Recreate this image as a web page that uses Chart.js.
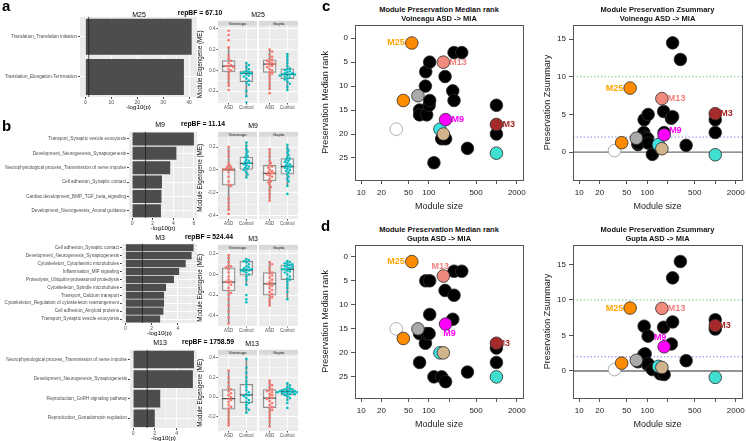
<!DOCTYPE html>
<html>
<head>
<meta charset="utf-8">
<title>Module preservation</title>
<script src="https://cdn.jsdelivr.net/npm/chart.js@4.4.1/dist/chart.umd.min.js"></script>
<style>
  body { margin: 0; width: 746px; height: 441px; position: relative; overflow: hidden; background: #fff; font-family: "Liberation Sans", Arial, sans-serif; }
  canvas { position: absolute; }
  .t { position: absolute; white-space: nowrap; line-height: 1; color: #000; }
</style>
</head>
<body>
<script>
// ---------- data ----------
const moduleIds = ['M25', 'M9', 'M3', 'M13'];
const repBF = [67.10, 11.14, 524.44, 1758.59];
const pCut = 0.05;

// enrichment terms and -log10(p)
const m25Terms = ['Translation_Translation initiation', 'Translation_Elongation-Termination'];
const m25LogP = [41.0, 38.0];
const m9Terms = ['Transport_Synaptic vesicle exocytosis', 'Development_Neurogenesis_Synaptogenesis',
  'Neurophysiological process_Transmission of nerve impulse', 'Cell adhesion_Synaptic contact',
  'Cardiac development_BMP_TGF_beta_signaling', 'Development_Neurogenesis_Axonal guidance'];
const m9LogP = [6.0, 4.3, 3.7, 2.9, 2.85, 2.8];
const m3Terms = ['Cell adhesion_Synaptic contact', 'Development_Neurogenesis_Synaptogenesis',
  'Cytoskeleton_Cytoplasmic microtubules', 'Inflammation_MIF signaling',
  'Proteolysis_Ubiquitin-proteasomal proteolysis', 'Cytoskeleton_Spindle microtubules',
  'Transport_Calcium transport', 'Cytoskeleton_Regulation of cytoskeleton rearrangement',
  'Cell adhesion_Amyloid proteins', 'Transport_Synaptic vesicle exocytosis'];
const m3LogP = [5.2, 5.05, 4.6, 4.1, 3.7, 3.1, 2.95, 2.95, 2.9, 2.65];
const m13Terms = ['Neurophysiological process_Transmission of nerve impulse', 'Development_Neurogenesis_Synaptogenesis',
  'Reproduction_GnRH signaling pathway', 'Reproduction_Gonadotropin regulation'];
const m13LogP = [5.6, 5.5, 2.5, 2.0];

// eigengene box plots
const studies = ['Voineagu', 'Gupta'];
const groups = ['ASD', 'Control'];
// [lower whisker, q1, median, q3, upper whisker]: Voineagu ASD, Voineagu Control, Gupta ASD, Gupta Control
const m25Box = [[-0.15, -0.016, 0.04, 0.093, 0.22], [-0.25, -0.11, -0.03, -0.006, 0.07],
  [-0.18, -0.02, 0.06, 0.1, 0.2], [-0.19, -0.08, -0.04, 0.015, 0.155]];
const m25ME = [
  [0.38, 0.34, 0.29, 0.22, 0.14, 0.11, 0.09, 0.07, 0.05, 0.04, 0.04, 0.03, 0.01, 0.0, -0.02, -0.05, -0.08, -0.12, -0.15, -0.19],
  [0.07, 0.05, 0.03, 0.01, -0.01, -0.02, -0.02, -0.03, -0.03, -0.04, -0.05, -0.06, -0.08, -0.1, -0.12, -0.14, -0.2, -0.25, -0.31],
  [0.2, 0.18, 0.15, 0.13, 0.11, 0.1, 0.09, 0.08, 0.07, 0.06, 0.06, 0.05, 0.04, 0.03, 0.01, 0.0, -0.02, -0.03, -0.05, -0.08, -0.11, -0.15, -0.18, -0.22],
  [0.155, 0.13, 0.1, 0.07, 0.04, 0.02, 0.01, 0.0, -0.01, -0.02, -0.03, -0.03, -0.04, -0.04, -0.04, -0.05, -0.05, -0.06, -0.07, -0.08, -0.09, -0.11, -0.13, -0.16, -0.19]];
const m9Box = [[-0.35, -0.133, 0.0, 0.012, 0.2], [-0.066, 0.0, 0.058, 0.113, 0.24],
  [-0.27, -0.096, -0.03, 0.04, 0.18], [-0.14, -0.037, 0.03, 0.1, 0.22]];
const m9ME = [
  [0.2, 0.16, 0.12, 0.06, 0.04, 0.03, 0.02, 0.01, 0.01, 0.0, 0.0, -0.02, -0.06, -0.1, -0.13, -0.14, -0.25, -0.29, -0.32, -0.35, -0.385],
  [0.24, 0.21, 0.18, 0.16, 0.14, 0.12, 0.11, 0.09, 0.08, 0.07, 0.06, 0.06, 0.05, 0.04, 0.03, 0.02, 0.01, 0.0, -0.02, -0.04, -0.066],
  [0.18, 0.15, 0.12, 0.08, 0.06, 0.04, 0.03, 0.02, 0.0, -0.01, -0.02, -0.03, -0.03, -0.04, -0.05, -0.06, -0.08, -0.1, -0.11, -0.13, -0.15, -0.18, -0.21, -0.24, -0.27],
  [0.22, 0.19, 0.17, 0.15, 0.13, 0.11, 0.1, 0.09, 0.08, 0.07, 0.06, 0.05, 0.04, 0.03, 0.03, 0.02, 0.01, 0.0, -0.01, -0.02, -0.04, -0.06, -0.08, -0.1, -0.14, -0.21]];
const m3Box = [[-0.475, -0.16, -0.074, 0.065, 0.19], [-0.1, -0.006, 0.044, 0.127, 0.15],
  [-0.3, -0.2, -0.09, 0.018, 0.12], [-0.24, -0.05, 0.05, 0.095, 0.13]];
const m3ME = [
  [0.19, 0.16, 0.12, 0.09, 0.08, 0.07, 0.05, 0.02, -0.02, -0.05, -0.07, -0.07, -0.08, -0.1, -0.13, -0.16, -0.18, -0.2, -0.24, -0.3, -0.36, -0.42, -0.475],
  [0.15, 0.14, 0.13, 0.12, 0.1, 0.08, 0.07, 0.06, 0.05, 0.05, 0.04, 0.04, 0.03, 0.02, 0.0, -0.02, -0.05, -0.1, -0.2, -0.24, -0.27],
  [0.12, 0.1, 0.07, 0.04, 0.02, 0.01, -0.01, -0.03, -0.05, -0.07, -0.08, -0.09, -0.1, -0.11, -0.13, -0.15, -0.17, -0.19, -0.2, -0.22, -0.24, -0.27, -0.3],
  [0.13, 0.12, 0.11, 0.1, 0.1, 0.09, 0.08, 0.07, 0.07, 0.06, 0.05, 0.05, 0.04, 0.03, 0.02, 0.0, -0.02, -0.04, -0.05, -0.07, -0.1, -0.13, -0.17, -0.24]];
const m13Box = [[-0.29, -0.122, -0.016, 0.078, 0.27], [-0.16, -0.058, 0.023, 0.13, 0.39],
  [-0.3, -0.107, -0.01, 0.078, 0.17], [-0.03, 0.023, 0.055, 0.078, 0.14]];
const m13ME = [
  [0.27, 0.2, 0.15, 0.1, 0.08, 0.06, 0.04, 0.02, 0.0, -0.02, -0.03, -0.05, -0.08, -0.1, -0.12, -0.15, -0.19, -0.23, -0.26, -0.29],
  [0.39, 0.3, 0.25, 0.2, 0.16, 0.13, 0.1, 0.07, 0.05, 0.03, 0.02, 0.01, -0.01, -0.03, -0.05, -0.06, -0.08, -0.11, -0.13, -0.16],
  [0.17, 0.14, 0.12, 0.1, 0.08, 0.07, 0.06, 0.05, 0.03, 0.02, 0.0, -0.01, -0.02, -0.04, -0.06, -0.08, -0.1, -0.11, -0.13, -0.15, -0.18, -0.21, -0.25, -0.3],
  [0.14, 0.12, 0.1, 0.09, 0.08, 0.08, 0.07, 0.07, 0.06, 0.06, 0.06, 0.05, 0.05, 0.05, 0.05, 0.04, 0.04, 0.03, 0.03, 0.02, 0.01, -0.01, -0.03, -0.06, -0.11]];

// module preservation (same module order in every array)
const moduleSize = [33, 42, 56, 69, 73, 73, 90, 89, 93, 101, 103, 103, 119, 146, 155,
  164, 164, 174, 177, 177, 226, 236, 236, 307, 373, 1000, 1000, 1000, 1000];
const rankVoi = [19, 13, 1, 12, 15, 16, 7, 10, 16, 14, 5, 13, 26, 19, 21, 5, 20, 8, 17, 21, 11, 13, 3, 3, 23, 18, 14, 20, 24];
const zVoi = [0.2, 1.25, 8.5, 1.85, 1.0, 1.2, 4.3, 2.6, 2.0, 1.8, 5.0, 1.2, -0.3, 1.0, 0.6,
  7.1, 0.45, 5.4, 2.3, 2.6, 4.5, 4.7, 14.5, 12.3, 0.9, 5.1, 4.3, 2.6, -0.35];
const rankGup = [15, 17, 1, 15, 16, 22, 5, 18, 16, 16, 5, 12, 25, 20, 25, 4, 20, 7, 14, 26, 13, 8, 3, 3, 24, 18, 19, 22, 25];
const zGup = [0.2, 1.1, 8.85, 1.5, 1.3, 1.4, 6.3, 2.3, 2.4, 0.9, 4.9, 1.0, 0.2, 0.65, -0.4,
  8.8, 0.5, 6.15, 3.4, -0.5, 3.8, 6.9, 13.1, 15.4, 1.45, 6.4, 7.2, 5.9, -0.9];
const labelNames = ['M25', 'M13', 'M9', 'M3'];
const labelIdx = [2, 15, 18, 25];
const sizeTicks = [10, 20, 50, 100, 200, 500, 1000, 2000];
const sizeTickText = ['10', '20', '50', '100', '', '500', '', '2000'];
const rankTicks = [0, 5, 10, 15, 20, 25];
const zTicks = [0, 5, 10, 15];
const zCuts = [2, 10];

// ---------- styles ----------
const K = '#000000';
const moduleColor = ['#ffffff', '#ff8c00', '#ff8c00', '#a9a9a9', K, K, K, K, K, K, K, K, K, '#3fe3e3', K,
  '#f08a7c', '#d2b48c', K, '#ff00ff', K, K, K, K, K, K, '#a52a2a', K, K, '#40e0d0'];
const labelColor = ['#ffa500', '#f08080', '#ff00ff', '#a52a2a'];
const groupColor = ['#f8766d', '#00bfc4'];

Chart.defaults.font.family = '"Liberation Sans", Arial, sans-serif';
Chart.defaults.color = '#222';
Chart.defaults.animation = false;
Chart.defaults.responsive = false;
Chart.defaults.events = [];
Chart.defaults.plugins.legend.display = false;
Chart.defaults.plugins.tooltip.enabled = false;

// ---------- helpers ----------
function makeCanvas(x, y, w, h) {
  const c = document.createElement('canvas');
  c.width = w; c.height = h;
  c.style.left = x + 'px'; c.style.top = y + 'px';
  c.style.width = w + 'px'; c.style.height = h + 'px';
  document.body.appendChild(c);
  return c;
}

function text(str, x, y, css, anchorTopLeft) {
  const d = document.createElement('div');
  d.className = 't';
  d.textContent = str;
  d.style.cssText += css;
  d.style.left = x + 'px'; d.style.top = y + 'px';
  if (!anchorTopLeft) d.style.transform = 'translate(-50%,-50%)';
  document.body.appendChild(d);
}

function halfTicks(min, max, step) {
  const h = step / 2, out = [];
  for (let v = Math.ceil(min / h - 1e-9) * h; v <= max + 1e-9; v += h) out.push(Math.round(v * 1000) / 1000);
  return out;
}
const isMajor = (v, step) => Math.abs(v / step - Math.round(v / step)) < 1e-6;

// beeswarm placement of points around a box centre (pixel-based collision)
function swarm(vals, cx, pxX, pxY) {
  const d = 2.5, placed = [];
  return vals.map(v => {
    let off = 0;
    for (let k = 0; k < 40; k++) {
      const cand = k === 0 ? 0 : (k % 2 ? 1 : -1) * Math.ceil(k / 2) * 0.5 * d / pxX;
      if (placed.every(p => Math.hypot((p.x - cand) * pxX, (p.y - v) * pxY) >= d)) { off = cand; break; }
    }
    placed.push({ x: off, y: v });
    return { x: cx + off, y: v };
  });
}

// ---------- plugins ----------
const panelBg = {
  id: 'panelBg',
  beforeDraw(chart, args, o) {
    const a = chart.chartArea, ctx = chart.ctx;
    ctx.save();
    if (o.color) {
      ctx.fillStyle = o.color;
      ctx.fillRect(a.left, a.top, a.right - a.left, a.bottom - a.top);
    }
    if (o.strip) {
      ctx.fillStyle = '#d9d9d9';
      ctx.fillRect(a.left, a.top - o.stripH, a.right - a.left, o.stripH);
      ctx.fillStyle = '#1a1a1a';
      ctx.font = '4.3px "Liberation Sans"';
      ctx.textAlign = 'center'; ctx.textBaseline = 'middle';
      ctx.fillText(o.strip, (a.left + a.right) / 2, a.top - o.stripH / 2 + 0.3);
    }
    ctx.restore();
  },
  afterDraw(chart, args, o) {
    if (!o.frame) return;
    const a = chart.chartArea, ctx = chart.ctx;
    ctx.save();
    ctx.strokeStyle = o.frame; ctx.lineWidth = 1;
    ctx.strokeRect(Math.round(a.left) + 0.5, Math.round(a.top) + 0.5, Math.round(a.right - a.left), Math.round(a.bottom - a.top));
    ctx.restore();
  }
};

function drawRefLines(chart, o) {
  if (!o.items) return;
  const a = chart.chartArea, ctx = chart.ctx, s = chart.scales[o.axis];
  ctx.save();
  o.items.forEach(it => {
    const p = s.getPixelForValue(it.v);
    ctx.beginPath();
    ctx.strokeStyle = it.color; ctx.lineWidth = it.w;
    ctx.setLineDash(it.dash || []);
    if (o.axis === 'x') { ctx.moveTo(p, a.top); ctx.lineTo(p, a.bottom); }
    else { ctx.moveTo(a.left, p); ctx.lineTo(a.right, p); }
    ctx.stroke();
  });
  ctx.restore();
}
const refLines = {
  id: 'refLines',
  beforeDatasetsDraw(chart, args, o) { if (!o.after) drawRefLines(chart, o); },
  afterDatasetsDraw(chart, args, o) { if (o.after) drawRefLines(chart, o); }
};

const pointLabels = {
  id: 'pointLabels',
  afterDatasetsDraw(chart, args, o) {
    if (!o.items) return;
    const ctx = chart.ctx;
    ctx.save();
    ctx.font = 'bold 9px "Liberation Sans"';
    ctx.textBaseline = 'middle';
    o.items.forEach(it => {
      ctx.fillStyle = it.color; ctx.textAlign = it.align;
      ctx.fillText(it.text, chart.scales.x.getPixelForValue(it.x) + it.dx, chart.scales.y.getPixelForValue(it.y) + it.dy);
    });
    ctx.restore();
  }
};

// ---------- panels a / b ----------
const rows = [
  { barTop: 15, barBottom: 97, barLeft: 80, step: 10, boxTop: 23, boxBottom: 103, yMin: -0.315, yMax: 0.428, titleY: 13.5, barTitleX: 139, bfX: 200, boxTitleX: 258 },
  { barTop: 130, barBottom: 218, barLeft: 129, step: 2, boxTop: 134, boxBottom: 219, yMin: -0.43, yMax: 0.29, titleY: 124, barTitleX: 160, bfX: 203, boxTitleX: 253 },
  { barTop: 242, barBottom: 323, barLeft: 122, step: 2, boxTop: 247, boxBottom: 326, yMin: -0.5, yMax: 0.24, titleY: 237, barTitleX: 160, bfX: 209, boxTitleX: 253 },
  { barTop: 348, barBottom: 428, barLeft: 130, step: 2, boxTop: 352, boxBottom: 431, yMin: -0.346, yMax: 0.432, titleY: 342, barTitleX: 160, bfX: 208, boxTitleX: 252 }
];
const termSets = [m25Terms, m9Terms, m3Terms, m13Terms];
const logPSets = [m25LogP, m9LogP, m3LogP, m13LogP];
const boxSets = [m25Box, m9Box, m3Box, m13Box];
const meSets = [m25ME, m9ME, m3ME, m13ME];

function barPanel(L, terms, logp) {
  const padTop = 2, padRight = 3, xH = 14, right = 197;
  const top = L.barTop - padTop;
  const cv = makeCanvas(0, top, right + padRight, L.barBottom + xH - top);
  const hi = Math.max(...logp);
  const xMin = -0.05 * hi, xMax = 1.05 * hi;
  const ticks = halfTicks(xMin, xMax, L.step);
  new Chart(cv, {
    type: 'bar',
    data: { labels: terms, datasets: [{ data: logp, backgroundColor: '#4d4d4d', categoryPercentage: 0.9, barPercentage: 1 }] },
    options: {
      indexAxis: 'y',
      layout: { padding: { top: padTop, right: padRight, left: 0, bottom: 0 } },
      scales: {
        x: {
          type: 'linear', min: xMin, max: xMax,
          afterBuildTicks: a => { a.ticks = ticks.map(v => ({ value: v })); },
          afterFit: a => { a.height = xH; },
          grid: { color: '#fff', lineWidth: c => (c.tick && isMajor(c.tick.value, L.step)) ? 0.9 : 0.45,
            tickLength: 2, tickColor: c => (c.tick && isMajor(c.tick.value, L.step)) ? '#333' : 'rgba(0,0,0,0)' },
          border: { display: false },
          ticks: { callback: v => isMajor(v, L.step) ? String(Math.round(v)) : '', font: { size: 5 }, color: '#4d4d4d', padding: 1, maxRotation: 0, autoSkip: false },
          title: { display: true, text: '-log10(p)', font: { size: 6.2 }, color: '#000', padding: 0 }
        },
        y: {
          afterFit: a => { a.width = L.barLeft; },
          grid: { color: '#fff', lineWidth: 0.9, offset: false, tickLength: 2, tickColor: '#333' },
          border: { display: false },
          ticks: { font: { size: 4.6 }, color: '#4d4d4d', padding: 1, autoSkip: false }
        }
      },
      plugins: {
        panelBg: { color: '#ebebeb' },
        refLines: { axis: 'x', after: true, items: [{ v: -Math.log10(pCut), color: '#1a1a1a', w: 0.7 }] }
      }
    },
    plugins: [panelBg, refLines]
  });
}

function boxFacet(L, s, stats, vals) {
  const stripH = 5, xH = 9, padR = 12, padL = s === 0 ? 0 : 12;
  const cl = s === 0 ? 218 : 259, cr = s === 0 ? 257 : 298;
  const yW = s === 0 ? 22 : 1;
  const left = cl - yW - padL;
  const top = L.boxTop - stripH;
  const cv = makeCanvas(left, top, cr + padR - left, L.boxBottom + xH - top);
  const pxX = (cr - cl) / 2.2, pxY = (L.boxBottom - L.boxTop) / (L.yMax - L.yMin);
  const yt = halfTicks(L.yMin, L.yMax, 0.2);
  const datasets = [
    { type: 'bar', data: stats.map((b, g) => ({ x: g + 1, y: [b[0], b[4]] })), backgroundColor: '#8a8a8a', barThickness: 1, grouped: false, order: 5 },
    { type: 'bar', data: stats.map((b, g) => ({ x: g + 1, y: [b[1], b[3]] })), backgroundColor: 'rgba(255,255,255,0.55)',
      borderColor: '#8a8a8a', borderWidth: 1, borderSkipped: false, barThickness: 13, grouped: false, order: 4 },
    { type: 'scatter', data: stats.map((b, g) => ({ x: g + 1, y: b[2] })), pointStyle: 'line', pointRadius: 6.5,
      pointBorderColor: '#4d4d4d', pointBorderWidth: 1.3, order: 3 }
  ];
  vals.forEach((v, g) => datasets.push({
    type: 'scatter', data: swarm(v, g + 1, pxX, pxY), pointRadius: 1.3,
    pointBackgroundColor: groupColor[g], pointBorderWidth: 0, order: 2 - g
  }));
  new Chart(cv, {
    type: 'bar',
    data: { datasets },
    options: {
      layout: { padding: { top: stripH, right: padR, left: padL, bottom: 0 } },
      scales: {
        x: {
          type: 'linear', min: 0.4, max: 2.6, offset: false,
          afterBuildTicks: a => { a.ticks = groups.map((g, i) => ({ value: i + 1 })); },
          afterFit: a => { a.height = xH; },
          grid: { color: '#fff', lineWidth: 0.9, offset: false, tickLength: 1.5, tickColor: '#333' },
          border: { display: false },
          ticks: { callback: v => groups[Math.round(v) - 1], font: { size: 4.5 }, color: '#4d4d4d', padding: 1, maxRotation: 0, autoSkip: false }
        },
        y: {
          type: 'linear', min: L.yMin, max: L.yMax,
          afterBuildTicks: a => { a.ticks = yt.map(v => ({ value: v })); },
          afterFit: a => { a.width = yW; },
          grid: { color: '#fff', lineWidth: c => (c.tick && isMajor(c.tick.value, 0.2)) ? 0.9 : 0.45,
            drawTicks: s === 0, tickLength: 1.5,
            tickColor: c => (c.tick && isMajor(c.tick.value, 0.2)) ? '#333' : 'rgba(0,0,0,0)' },
          border: { display: false },
          ticks: { display: s === 0, callback: v => isMajor(v, 0.2) ? (Math.abs(v) < 1e-9 ? 0 : v).toFixed(1) : '',
            font: { size: 4.5 }, color: '#4d4d4d', padding: 1, autoSkip: false },
          title: { display: s === 0, text: 'Module Eigengene (ME)', font: { size: 6.3 }, color: '#000', padding: 0 }
        }
      },
      plugins: { panelBg: { color: '#ebebeb', strip: studies[s], stripH: stripH } }
    },
    plugins: [panelBg]
  });
}

rows.forEach((L, i) => {
  barPanel(L, termSets[i], logPSets[i]);
  boxFacet(L, 0, boxSets[i].slice(0, 2), meSets[i].slice(0, 2));
  boxFacet(L, 1, boxSets[i].slice(2, 4), meSets[i].slice(2, 4));
  text(moduleIds[i], L.barTitleX, L.titleY, 'font-size:7px;');
  text('repBF = ' + repBF[i].toFixed(2), L.bfX, L.titleY - 0.5, 'font-size:6.8px;font-weight:bold;');
  text(moduleIds[i], L.boxTitleX, L.titleY + 0.5, 'font-size:7px;');
});

// ---------- panels c / d ----------
const sizeAxis = [Math.pow(10, 1 - 0.04 * Math.log10(200)), Math.pow(10, Math.log10(2000) + 0.04 * Math.log10(200))];

function scatterPanel(P, vals, yMin, yMax, yTicks, reverse, yTitle, lines, place) {
  const padTop = 6, padRight = 12, xH = 32;
  const left = P.l - P.yW, top = P.t - padTop;
  const cv = makeCanvas(left, top, P.r + padRight - left, P.b + xH - top);
  const order = moduleSize.map((s, i) => i)
    .sort((a, b) => (moduleColor[a] === K ? 0 : 1) - (moduleColor[b] === K ? 0 : 1));
  const labels = labelIdx.map((mi, k) => ({
    x: moduleSize[mi], y: vals[mi], text: labelNames[k], color: labelColor[k],
    dx: place[k][0], dy: place[k][1], align: place[k][2]
  }));
  new Chart(cv, {
    type: 'scatter',
    data: { datasets: [{
      data: order.map(i => ({ x: moduleSize[i], y: vals[i] })),
      pointRadius: 6.3,
      pointBackgroundColor: order.map(i => moduleColor[i]),
      pointBorderColor: order.map(i => moduleColor[i] === '#ffffff' ? '#9a9a9a' : '#2b2b2b'),
      pointBorderWidth: 0.8
    }] },
    options: {
      layout: { padding: { top: padTop, right: padRight, left: 0, bottom: 0 } },
      scales: {
        x: {
          type: 'logarithmic', min: sizeAxis[0], max: sizeAxis[1],
          afterBuildTicks: a => { a.ticks = sizeTicks.map(v => ({ value: v })); },
          afterFit: a => { a.height = xH; },
          grid: { drawOnChartArea: false, tickLength: 4, tickColor: '#555' },
          border: { display: false },
          ticks: { callback: (v, i) => sizeTickText[i], font: { size: 8 }, color: '#222', padding: 4, maxRotation: 0, minRotation: 0, autoSkip: false },
          title: { display: true, text: 'Module size', font: { size: 9 }, color: '#222', padding: 0 }
        },
        y: {
          type: 'linear', min: yMin, max: yMax, reverse: reverse,
          afterBuildTicks: a => { a.ticks = yTicks.map(v => ({ value: v })); },
          afterFit: a => { a.width = P.yW; },
          grid: { drawOnChartArea: false, tickLength: 4, tickColor: '#555' },
          border: { display: false },
          ticks: { font: { size: 8 }, color: '#222', padding: 3, autoSkip: false },
          title: { display: true, text: yTitle, font: { size: 9 }, color: '#222', padding: 0 }
        }
      },
      plugins: {
        panelBg: { frame: '#555' },
        refLines: { axis: 'y', after: false, items: lines },
        pointLabels: { items: labels }
      }
    },
    plugins: [panelBg, refLines, pointLabels]
  });
}

const zLines = [
  { v: 0, color: '#707070', w: 1.3 },
  { v: zCuts[0], color: '#7b7bf0', w: 0.9, dash: [1.5, 2] },
  { v: zCuts[1], color: '#6fbf6f', w: 0.9, dash: [1.5, 2] }
];
const frames = {
  cL: { l: 355, r: 523, t: 23, b: 180, yW: 35 },
  cR: { l: 573, r: 742, t: 23, b: 180, yW: 31 },
  dL: { l: 355, r: 523, t: 243, b: 398, yW: 35 },
  dR: { l: 573, r: 742, t: 243, b: 398, yW: 31 }
};
scatterPanel(frames.cL, rankVoi, -2.8, 29.6, rankTicks, true, 'Preservation Median rank', [],
  [[-7, 0, 'right'], [6, 0, 'left'], [6, 0, 'left'], [6, 0, 'left']]);
scatterPanel(frames.cR, zVoi, -3.7, 16.9, zTicks, false, 'Preservation Zsummary', zLines,
  [[-7, 0, 'right'], [6, 0, 'left'], [5, -4, 'left'], [5, 0, 'left']]);
scatterPanel(frames.dL, rankGup, -2.5, 29.4, rankTicks, true, 'Preservation Median rank', [],
  [[-7, 0, 'right'], [-3, -10, 'center'], [4, 9, 'center'], [1, 0, 'left']]);
scatterPanel(frames.dR, zGup, -3.8, 17.75, zTicks, false, 'Preservation Zsummary', zLines,
  [[-7, 0, 'right'], [6, 0, 'left'], [-4, -9, 'center'], [3, 0, 'left']]);

const scTitle = 'font-size:7.5px;font-weight:bold;color:#111;';
text('Module Preservation Median rank', 439, 10, scTitle);
text('Voineagu ASD -> MIA', 439, 18.5, scTitle);
text('Module Preservation Zsummary', 657.5, 10, scTitle);
text('Voineagu ASD -> MIA', 657.5, 18.5, scTitle);
text('Module Preservation Median rank', 439, 230, scTitle);
text('Gupta ASD -> MIA', 439, 238.5, scTitle);
text('Module Preservation Zsummary', 657.5, 230, scTitle);
text('Gupta ASD -> MIA', 657.5, 238.5, scTitle);

// panel letters
const letter = 'font-size:15px;font-weight:bold;';
text('a', 2, -2, letter, true);
text('b', 2, 118, letter, true);
text('c', 322, -2, letter, true);
text('d', 321, 218, letter, true);
</script>
</body>
</html>
